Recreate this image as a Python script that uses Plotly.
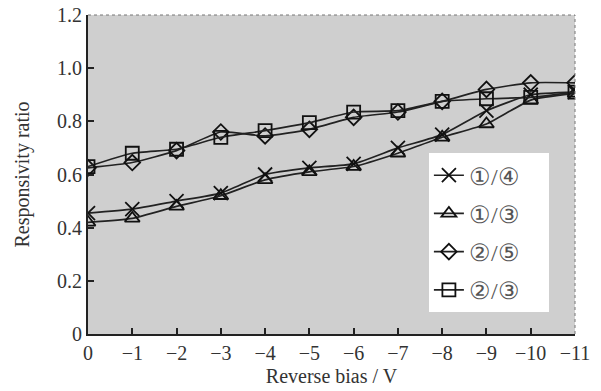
import plotly.graph_objects as go

bias = [0, -1, -2, -3, -4, -5, -6, -7, -8, -9, -10, -11]
ratio_14 = [0.455, 0.47, 0.50, 0.53, 0.60, 0.625, 0.64, 0.70, 0.75, 0.84, 0.90, 0.91]
ratio_13 = [0.42, 0.435, 0.48, 0.52, 0.58, 0.61, 0.63, 0.68, 0.74, 0.79, 0.88, 0.905]
ratio_25 = [0.625, 0.645, 0.69, 0.76, 0.745, 0.77, 0.815, 0.835, 0.875, 0.92, 0.945, 0.945]
ratio_23 = [0.63, 0.68, 0.695, 0.74, 0.765, 0.795, 0.835, 0.84, 0.875, 0.885, 0.89, 0.91]
names = ["①/④", "①/③", "②/⑤", "②/③"]
symbols = ["x-thin-open", "triangle-up-open", "diamond-open", "square-open"]
sizes = [14, 13, 12, 13]
series = [ratio_14, ratio_13, ratio_25, ratio_23]
x_ticks = list(range(0, -12, -1))
y_ticks = [0, 0.2, 0.4, 0.6, 0.8, 1.0, 1.2]
y_tick_text = ["0", "0.2", "0.4", "0.6", "0.8", "1.0", "1.2"]

serif = "Liberation Serif, Times New Roman, serif"

fig = go.Figure()
for i, (nm, sym, sz, ys) in enumerate(zip(names, symbols, sizes, series)):
    fig.add_trace(go.Scatter(
        x=bias, y=ys, name=nm + "\u2003", mode="lines+markers", legendgroup=f"g{i}",
        line=dict(color="#222222", width=1.7, shape="spline", smoothing=0.5),
        marker=dict(symbol=sym, size=sz, color="#111111",
                    line=dict(color="#111111", width=1.8)),
    ))

fig.update_layout(
    width=601, height=391,
    margin=dict(l=88, r=26, t=15, b=57),
    paper_bgcolor="white",
    plot_bgcolor="#cfcfcf",
    font=dict(family=serif, size=20, color="#333333"),
    showlegend=True,
    legend=dict(
        x=0.70, y=0.567, xanchor="left", yanchor="top",
        bgcolor="white", borderwidth=0,
        font=dict(family=serif, size=24, color="#555555"),
        traceorder="grouped", tracegroupgap=4,
    ),
    xaxis=dict(
        range=[0.0, -11.0], tickmode="array", tickvals=x_ticks,
        ticks="inside", ticklen=6, tickwidth=1.5, tickcolor="#222222",
        showline=True, linecolor="#222222", linewidth=2,
        showgrid=False, zeroline=False, automargin=False,
        title=dict(text="Reverse bias / V", standoff=6,
                   font=dict(family=serif, size=20)),
        tickfont=dict(family=serif, size=20),
    ),
    yaxis=dict(
        range=[0, 1.2], tickmode="array", tickvals=y_ticks, ticktext=y_tick_text,
        ticks="inside", ticklen=6, tickwidth=1.5, tickcolor="#222222",
        showline=True, linecolor="#222222", linewidth=2,
        showgrid=False, zeroline=False, automargin=False,
        title=dict(text="Responsivity ratio", standoff=22,
                   font=dict(family=serif, size=20)),
        tickfont=dict(family=serif, size=20),
    ),
    shapes=[
        dict(type="line", xref="paper", yref="paper", x0=0, x1=1, y0=1, y1=1,
             line=dict(color="#777777", width=1, dash="dot")),
        dict(type="line", xref="paper", yref="paper", x0=1, x1=1, y0=0, y1=1,
             line=dict(color="#777777", width=1, dash="dot")),
    ],
)

fig.write_html("out.html")
